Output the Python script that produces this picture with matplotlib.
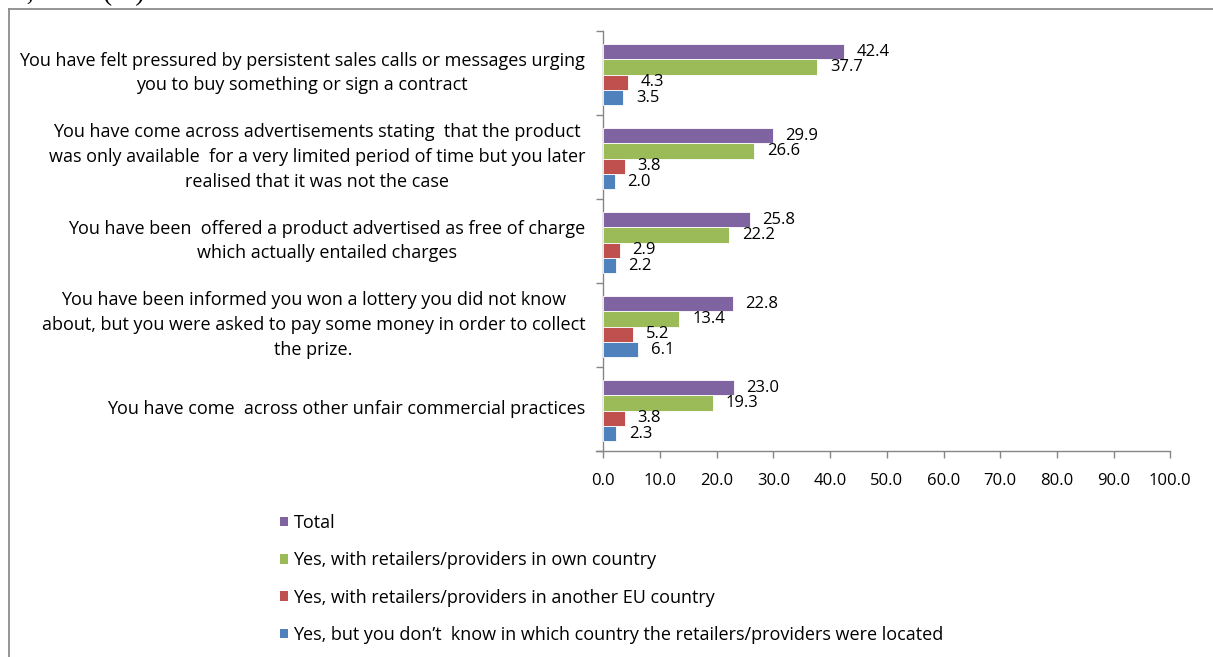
#!/usr/bin/env python3
"""Unfair commercial practices experienced, by location of retailer (%)."""

from __future__ import annotations

import matplotlib
matplotlib.use("Agg")
import matplotlib.pyplot as plt
import numpy as np
from matplotlib.lines import Line2D
from matplotlib.patches import Patch

CATEGORIES = [
    "You have felt pressured by persistent sales calls or messages urging\nyou to buy something or sign a contract",
    "You have come across advertisements stating  that the product\nwas only available  for a very limited period of time but you later\nrealised that it was not the case",
    "You have been  offered a product advertised as free of charge\nwhich actually entailed charges",
    "You have been informed you won a lottery you did not know\nabout, but you were asked to pay some money in order to collect\nthe prize.",
    "You have come  across other unfair commercial practices",
]

SERIES = [
    "Total",
    "Yes, with retailers/providers in own country",
    "Yes, with retailers/providers in another EU country",
    "Yes, but you don\u2019t  know in which country the retailers/providers were located",
]

TOTAL = [42.4, 29.9, 25.8, 22.8, 23.0]
OWN_COUNTRY = [37.7, 26.6, 22.2, 13.4, 19.3]
OTHER_EU = [4.3, 3.8, 2.9, 5.2, 3.8]
UNKNOWN = [3.5, 2.0, 2.2, 6.1, 2.3]

X_TICKS = [0, 10, 20, 30, 40, 50, 60, 70, 80, 90, 100]

# Office 2007 palette
COLORS = ["#8064A2", "#9BBB59", "#C0504D", "#4F81BD"]
C_AXIS = "#868686"
C_FRAME = "#8C8C8C"

FONT = "Open Sans"
FS = 13.0       # category labels and legend
FS_NUM = 12.0   # value labels and x tick labels


def main() -> None:
    plt.rcParams["font.family"] = [FONT, "DejaVu Sans"]
    plt.rcParams["font.size"] = FS

    W, H = 1213, 657
    fig = plt.figure(figsize=(W / 100, H / 100), dpi=100)
    fig.patch.set_facecolor("white")

    # plot area in pixel terms
    x0, x1 = 603.3, 1170.3
    y_top, y_bot = 31, 451
    ax = fig.add_axes([x0 / W, 1 - y_bot / H, (x1 - x0) / W, (y_bot - y_top) / H])

    values = [TOTAL, OWN_COUNTRY, OTHER_EU, UNKNOWN]
    n_cat = len(CATEGORIES)
    bar_h = 0.182
    centers = np.arange(n_cat)

    for k, (vals, color) in enumerate(zip(values, COLORS)):
        offs = (k - 1.5) * bar_h + 0.02
        bars = ax.barh(centers + offs, vals, height=bar_h, color=color,
                       edgecolor="white", linewidth=0.6, zorder=3)
        for b, v in zip(bars, vals):
            ax.annotate(f"{v:.1f}", xy=(b.get_width(), b.get_y() + b.get_height() / 2),
                        xytext=(9.2, 0), textcoords="offset points",
                        ha="left", va="center", fontsize=FS_NUM, color="black")

    ax.set_xlim(0, 100)
    ax.set_ylim(n_cat - 0.5, -0.5)
    ax.set_xticks(X_TICKS)
    ax.set_xticklabels([f"{t:.1f}" for t in X_TICKS], fontsize=FS_NUM)

    # category boundaries carry the y ticks, labels sit at the centres
    ax.set_yticks(np.arange(-0.5, n_cat, 1.0))
    ax.set_yticklabels([])
    ax.set_yticks(centers, minor=True)
    ax.set_yticklabels(CATEGORIES, minor=True, ha="right", va="center",
                       multialignment="center", fontsize=FS, linespacing=1.5)
    ax.tick_params(axis="y", which="minor", length=0, pad=13)
    ax.tick_params(axis="y", which="major", length=5, width=1.0, color=C_AXIS, direction="out")
    ax.tick_params(axis="x", length=5, width=1.0, color=C_AXIS, direction="out", pad=11)

    for side in ("top", "right"):
        ax.spines[side].set_visible(False)
    for side in ("left", "bottom"):
        ax.spines[side].set_color(C_AXIS)
        ax.spines[side].set_linewidth(1.0)
    ax.spines["bottom"].set_bounds(-1.3, 100)

    # legend below the plot
    handles = [Patch(facecolor=c, edgecolor="none", label=s) for c, s in zip(COLORS, SERIES)]
    fig.legend(handles=handles, loc="upper left", bbox_to_anchor=(280 / W, 1 - 514 / H),
               frameon=False, fontsize=FS, handlelength=0.45, handleheight=0.45,
               handletextpad=0.3, labelspacing=1.07, borderaxespad=0, borderpad=0)

    # outer chart border (left and top edges in view)
    fig.add_artist(Line2D([8.5 / W, 8.5 / W], [0, 1 - 8.5 / H], color=C_FRAME, lw=1.3))
    fig.add_artist(Line2D([8.5 / W, 1], [1 - 8.5 / H, 1 - 8.5 / H], color=C_FRAME, lw=1.3))

    # caption line above the chart
    fig.text(-0.001, 1 - 0.5 / H, "28, 2024 (%)", family="Liberation Serif", fontsize=20,
             ha="left", va="baseline")

    fig.savefig("out.png", dpi=100, facecolor="white")
    plt.close(fig)


if __name__ == "__main__":
    main()
